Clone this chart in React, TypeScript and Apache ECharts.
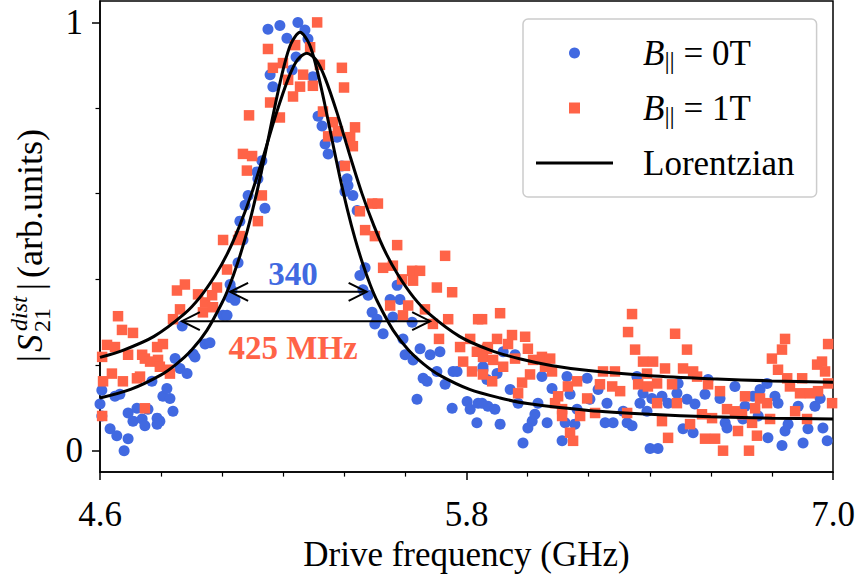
import React, { useEffect, useRef } from 'react';
import * as echarts from 'echarts';

const FONT = '"Liberation Serif", "Times New Roman", serif';
const BLUE = '#4169E1';
const ORANGE = '#FF6347';

const xMajorTicks = [4.6, 5.8, 7.0];
const xMinorTicks = [4.8, 5.0, 5.2, 5.4, 5.6, 6.0, 6.2, 6.4, 6.6, 6.8];
const yMajorTicks = [0, 1];
const yMinorTicks = [0.2, 0.4, 0.6, 0.8];

const blue0T = [
  [4.606,0.141],[4.600,0.109],[4.649,0.127],[4.665,0.132],[4.606,0.081],[4.633,0.051],[4.655,0.035],[4.692,0.028],[4.679,0.000],[4.692,0.088],[4.721,0.099],[4.708,0.069],[4.738,0.074],[4.747,0.058],[4.757,0.097],[4.787,0.076],[4.796,0.069],[4.787,0.062],[4.770,0.162],[4.806,0.127],[4.829,0.122],[4.839,0.092],[4.819,0.145],[4.846,0.215],[4.862,0.192],[4.885,0.180],[4.911,0.219],[4.905,0.226],[4.944,0.249],[4.960,0.252],[4.869,0.291],[5.003,0.316],[5.016,0.316],[5.026,0.358],[5.042,0.351],[5.032,0.374],[5.026,0.388],[5.052,0.439],[5.068,0.492],
  [5.150,0.984],[5.189,0.993],[5.248,1.000],[5.271,0.982],[5.212,0.963],[5.281,0.961],[5.242,0.919],[5.229,0.889],[5.157,0.878],[5.166,0.850],[5.297,0.873],[5.314,0.781],[5.327,0.758],[5.337,0.716],[5.347,0.693],[5.376,0.732],[5.130,0.677],[5.114,0.651],[5.117,0.635],[5.085,0.596],[5.075,0.573],[5.140,0.566],[5.058,0.536],[5.392,0.665],[5.409,0.635],[5.412,0.619],[5.428,0.596],[5.402,0.605],[5.442,0.561],
  [5.468,0.427],[5.451,0.409],[5.461,0.376],[5.478,0.363],[5.491,0.323],[5.507,0.307],[5.500,0.296],[5.527,0.273],[5.550,0.353],[5.582,0.353],[5.573,0.386],[5.559,0.312],[5.592,0.261],[5.599,0.224],[5.625,0.212],[5.648,0.238],[5.681,0.224],[5.713,0.231],[5.658,0.169],[5.671,0.162],[5.703,0.185],[5.730,0.155],[5.756,0.185],[5.769,0.185],[5.638,0.120],[5.753,0.099],[5.802,0.115],[5.812,0.097],[5.838,0.111],[5.834,0.065],[5.870,0.104],[5.854,0.189],[5.867,0.166],[5.622,0.300],
  [5.920,0.231],[5.959,0.224],[5.854,0.196],[5.900,0.180],[5.851,0.111],[5.893,0.097],[5.943,0.143],[5.969,0.111],[5.910,0.062],[5.985,0.018],[6.001,0.053],[6.015,0.069],[6.024,0.085],[6.047,0.173],[6.080,0.145],[6.034,0.111],[6.064,0.065],[6.113,0.023],[6.129,0.173],[6.139,0.132],[6.162,0.097],[6.123,0.065],[6.155,0.062],[6.195,0.169],[6.204,0.120],[6.260,0.111],[6.254,0.065],[6.280,0.065],[6.231,0.143],[6.326,0.065],[6.342,0.058],[6.358,0.173],[6.368,0.111],[6.391,0.092],[6.407,0.122],[6.401,0.005],[6.313,0.092],[6.378,0.134],
  [6.493,0.157],[6.489,0.134],[6.440,0.127],[6.460,0.111],[6.522,0.120],[6.548,0.109],[6.509,0.051],[6.542,0.042],[6.581,0.132],[6.591,0.166],[6.630,0.122],[6.647,0.065],[6.653,0.053],[6.679,0.150],[6.712,0.104],[6.705,0.074],[6.738,0.127],[6.755,0.081],[6.761,0.143],[6.784,0.157],[6.787,0.030],[6.810,0.127],[6.820,0.111],[6.833,0.012],[6.843,0.046],[6.853,0.062],[6.886,0.104],[6.902,0.018],[6.918,0.051],[6.941,0.104],[6.958,0.122],[6.967,0.053],[6.981,0.023],[6.427,0.005]
];

const orange1T = [
  [4.659,0.314],[4.672,0.282],[4.708,0.275],[4.623,0.247],[4.649,0.242],[4.607,0.219],[4.692,0.224],[4.738,0.224],[4.747,0.215],[4.787,0.242],[4.806,0.249],[4.764,0.208],[4.790,0.212],[4.796,0.196],[4.823,0.189],[4.829,0.180],[4.639,0.180],[4.610,0.162],[4.675,0.162],[4.721,0.169],[4.731,0.173],[4.607,0.081],[4.747,0.099],[4.839,0.307],[4.852,0.374],[4.878,0.388],[4.862,0.330],[4.921,0.365],[4.944,0.346],[4.937,0.323],[4.970,0.335],[4.983,0.381],[5.016,0.423],[4.967,0.363],[5.003,0.492],[5.052,0.492],
  [5.311,1.000],[5.150,0.938],[5.239,0.947],[5.288,0.942],[5.320,0.901],[5.392,0.894],[5.166,0.894],[5.199,0.905],[5.265,0.878],[5.216,0.866],[5.255,0.850],[5.297,0.852],[5.232,0.827],[5.157,0.813],[5.399,0.848],[5.088,0.783],[5.189,0.778],[5.330,0.792],[5.363,0.767],[5.379,0.746],[5.347,0.734],[5.435,0.755],[5.419,0.732],[5.428,0.711],[5.068,0.693],[5.098,0.688],[5.081,0.654],[5.402,0.665],[5.130,0.596],[5.451,0.559],[5.491,0.577],[5.510,0.577],[5.468,0.515],[5.500,0.501],[5.117,0.536],[5.058,0.501],
  [5.573,0.480],[5.730,0.455],[5.527,0.427],[5.559,0.432],[5.622,0.420],[5.648,0.420],[5.589,0.400],[5.625,0.397],[5.703,0.381],[5.753,0.370],[5.550,0.339],[5.609,0.339],[5.664,0.330],[5.592,0.316],[5.690,0.296],[5.740,0.307],[5.838,0.307],[5.710,0.261],[5.779,0.242],[5.812,0.261],[5.834,0.231],[5.867,0.238],[5.789,0.208],[5.818,0.185],[5.854,0.178],
  [5.910,0.321],[5.851,0.307],[5.900,0.261],[5.949,0.270],[5.992,0.266],[5.936,0.249],[5.870,0.242],[6.001,0.238],[5.854,0.219],[5.887,0.212],[5.959,0.215],[5.920,0.196],[6.018,0.212],[6.047,0.219],[6.074,0.215],[6.008,0.178],[5.884,0.162],[5.982,0.159],[5.969,0.134],[6.057,0.196],[6.080,0.185],[6.100,0.127],[6.090,0.111],[6.113,0.097],[6.113,0.081],[6.132,0.150],[6.162,0.162],[6.172,0.081],[6.195,0.122],[6.221,0.088],[6.139,0.042],[6.149,0.023],[6.247,0.185],[6.286,0.185],[6.237,0.155],[6.277,0.150],[6.303,0.139],[6.326,0.088],[6.342,0.319],[6.329,0.277],[6.352,0.236],[6.378,0.208],[6.411,0.208],[6.391,0.180],[6.362,0.155],[6.394,0.150],[6.424,0.157],[6.424,0.111],
  [6.483,0.273],[6.522,0.236],[6.450,0.192],[6.509,0.192],[6.542,0.185],[6.473,0.155],[6.555,0.173],[6.591,0.155],[6.630,0.139],[6.712,0.127],[6.489,0.111],[6.440,0.069],[6.460,0.030],[6.532,0.062],[6.571,0.085],[6.604,0.076],[6.581,0.028],[6.614,0.028],[6.640,0.000],[6.653,0.097],[6.679,0.092],[6.702,0.085],[6.689,0.046],[6.725,0.000],[6.735,0.065],[6.745,0.099],[6.761,0.122],[6.784,0.111],[6.751,0.035],[6.794,0.074],[6.843,0.261],[6.833,0.236],[6.800,0.215],[6.820,0.189],[6.850,0.169],[6.859,0.150],[6.899,0.169],[6.892,0.134],[6.925,0.134],[6.951,0.139],[6.876,0.092],[6.915,0.074],[6.948,0.201],[6.964,0.208],[6.974,0.185],[6.984,0.249],[6.984,0.157],[6.997,0.111]
];

const fitBlue = [
  [4.6,0.123],[4.7,0.143],[4.8,0.177],[4.85,0.202],[4.9,0.235],[4.95,0.281],[5.0,0.346],[5.025,0.387],[5.05,0.437],[5.075,0.495],[5.1,0.563],[5.125,0.640],[5.15,0.725],[5.175,0.812],[5.2,0.891],[5.225,0.950],[5.255,0.977],[5.285,0.950],[5.31,0.891],[5.335,0.812],[5.36,0.725],[5.385,0.640],[5.41,0.563],[5.435,0.495],[5.46,0.437],[5.485,0.387],[5.51,0.346],[5.56,0.281],[5.61,0.235],[5.66,0.202],[5.71,0.177],[5.81,0.143],[5.91,0.123],[6.0,0.110],[6.2,0.094],[6.4,0.085],[6.6,0.079],[6.8,0.076],[7.0,0.074]
];

const fitOrange = [
  [4.6,0.218],[4.677,0.235],[4.777,0.267],[4.877,0.320],[4.927,0.358],[4.977,0.409],[5.017,0.460],[5.057,0.525],[5.097,0.602],[5.137,0.692],[5.177,0.787],[5.217,0.870],[5.247,0.913],[5.277,0.928],[5.307,0.913],[5.337,0.870],[5.377,0.787],[5.417,0.692],[5.457,0.602],[5.497,0.525],[5.537,0.460],[5.577,0.409],[5.627,0.358],[5.677,0.320],[5.777,0.267],[5.877,0.235],[5.977,0.214],[6.077,0.199],[6.2,0.187],[6.4,0.175],[6.6,0.168],[6.8,0.163],[7.0,0.160]
];

// [x start, x end, y] of the double arrows
const arrowSpans = [
  [5.026, 5.473, 0.371],
  [4.868, 5.681, 0.3025],
];
const annotationLabels = ['340', '425 MHz'];
const annotationPos = [
  [5.232, 0.413],
  [5.232, 0.239],
];
const annotationColors = [BLUE, ORANGE];

const legendText: Record<string, string> = {
  B0: '{it|B}{sub|||}{rm| = 0T}',
  B1: '{it|B}{sub|||}{rm| = 1T}',
  Lorentzian: '{rm|Lorentzian}',
};

function buildOption(): any {
  const tickStyle = { color: '#000', width: 1.5 };
  const minorStyle = { color: '#000', width: 1.2 };
  return {
    animation: false,
    backgroundColor: '#fff',
    grid: {
      left: 100, right: 27, top: 1, bottom: 100,
      show: true, borderColor: '#000', borderWidth: 1.5, backgroundColor: 'transparent',
    },
    xAxis: [
      {
        type: 'value', min: 4.6, max: 7.0, position: 'bottom',
        splitLine: { show: false },
        axisLine: { onZero: false, lineStyle: tickStyle },
        axisTick: { customValues: xMajorTicks, length: 8, lineStyle: tickStyle },
        axisLabel: {
          customValues: xMajorTicks, margin: 25, color: '#000',
          fontFamily: FONT, fontSize: 35,
          formatter: (v: number) => v.toFixed(1),
        },
        name: 'Drive frequency (GHz)', nameLocation: 'middle', nameGap: 63,
        nameTextStyle: { fontFamily: FONT, fontSize: 35, color: '#000' },
      },
      {
        type: 'value', min: 4.6, max: 7.0, position: 'bottom',
        splitLine: { show: false }, axisLine: { show: false, onZero: false }, axisLabel: { show: false },
        axisTick: { customValues: xMinorTicks, length: 4.5, lineStyle: minorStyle },
      },
    ],
    yAxis: [
      {
        type: 'value', min: -0.05, max: 1.05, position: 'left',
        splitLine: { show: false },
        axisLine: { show: true, onZero: false, lineStyle: tickStyle },
        axisTick: { show: true, customValues: yMajorTicks, length: 8, lineStyle: tickStyle },
        axisLabel: {
          customValues: yMajorTicks, margin: 17, color: '#000',
          fontFamily: FONT, fontSize: 35,
          formatter: (v: number) => String(Math.round(v)),
        },
      },
      {
        type: 'value', min: -0.05, max: 1.05, position: 'left',
        splitLine: { show: false }, axisLine: { show: false, onZero: false }, axisLabel: { show: false },
        axisTick: { show: true, customValues: yMinorTicks, length: 4.5, lineStyle: minorStyle },
      },
    ],
    legend: {
      orient: 'vertical', left: 523, top: 19,
      padding: [14, 22, 14, 13],
      itemWidth: 77, itemHeight: 11, itemGap: 15,
      selectedMode: false,
      backgroundColor: 'rgba(255,255,255,0.85)',
      borderColor: '#cccccc', borderWidth: 1.5, borderRadius: 5,
      data: [
        { name: 'B0', icon: 'circle' },
        { name: 'B1', icon: 'path://M0 0H10V10H0Z' },
        { name: 'Lorentzian', icon: 'path://M0 0H77V3H0Z', itemStyle: { color: '#000' } },
      ],
      formatter: (n: string) => legendText[n] || n,
      textStyle: {
        color: '#000', fontFamily: FONT, fontSize: 35, lineHeight: 40,
        padding: [0, 0, 0, 25],
        rich: {
          it: { fontFamily: FONT, fontSize: 35, fontStyle: 'italic', lineHeight: 40, color: '#000' },
          sub: { fontFamily: FONT, fontSize: 26, lineHeight: 40, verticalAlign: 'bottom', color: '#000' },
          rm: { fontFamily: FONT, fontSize: 35, lineHeight: 40, color: '#000' },
        },
      },
    },
    graphic: [
      {
        type: 'group', x: 40, y: 362, rotation: Math.PI / 2, silent: true,
        children: [
          { type: 'text', x: 0, y: 8, style: { text: '|', font: `35px ${FONT}`, fill: '#000', textVerticalAlign: 'bottom', verticalAlign: 'bottom' } },
          { type: 'text', x: 10, y: 8, style: { text: 'S', font: `italic 35px ${FONT}`, fill: '#000', textVerticalAlign: 'bottom', verticalAlign: 'bottom' } },
          { type: 'text', x: 31, y: -9, style: { text: 'dist', font: `italic 24px ${FONT}`, fill: '#000', textVerticalAlign: 'bottom', verticalAlign: 'bottom' } },
          { type: 'text', x: 30, y: 14, style: { text: '21', font: `24px ${FONT}`, fill: '#000', textVerticalAlign: 'bottom', verticalAlign: 'bottom' } },
          { type: 'text', x: 72, y: 8, style: { text: '|', font: `35px ${FONT}`, fill: '#000', textVerticalAlign: 'bottom', verticalAlign: 'bottom' } },
          { type: 'text', x: 84, y: 8, style: { text: '(arb.units)', font: `36px ${FONT}`, fill: '#000', textVerticalAlign: 'bottom', verticalAlign: 'bottom' } },
        ],
      },
    ],
    series: [
      {
        name: 'B0', type: 'scatter', data: blue0T, symbol: 'circle', symbolSize: 11,
        itemStyle: { color: BLUE, opacity: 1 }, xAxisIndex: 0, yAxisIndex: 0, z: 2,
      },
      {
        name: 'B1', type: 'scatter', data: orange1T, symbol: 'rect', symbolSize: 10.5,
        itemStyle: { color: ORANGE, opacity: 1 }, xAxisIndex: 0, yAxisIndex: 0, z: 3,
      },
      {
        name: 'Lorentzian', type: 'line', data: fitBlue, smooth: 0.3, symbol: 'none',
        lineStyle: { color: '#000', width: 3 }, itemStyle: { color: '#000' }, z: 4,
      },
      {
        name: 'Lorentzian', type: 'line', data: fitOrange, smooth: 0.3, symbol: 'none',
        lineStyle: { color: '#000', width: 3 }, itemStyle: { color: '#000' }, z: 4,
      },
      {
        name: 'arrows', type: 'custom', data: arrowSpans, encode: { x: [0, 1], y: 2 },
        silent: true, z: 5, clip: false,
        renderItem: (params: any, api: any) => {
          const y = api.value(2);
          const a = api.coord([api.value(0), y]);
          const b = api.coord([api.value(1), y]);
          const h = 18, w = 9;
          const st = { stroke: '#000', lineWidth: 2, fill: 'none' };
          return {
            type: 'group',
            children: [
              { type: 'line', shape: { x1: a[0], y1: a[1], x2: b[0], y2: b[1] }, style: st },
              { type: 'polyline', shape: { points: [[a[0] + h, a[1] - w], [a[0], a[1]], [a[0] + h, a[1] + w]] }, style: st },
              { type: 'polyline', shape: { points: [[b[0] - h, b[1] - w], [b[0], b[1]], [b[0] - h, b[1] + w]] }, style: st },
            ],
          };
        },
      },
      {
        name: 'labels', type: 'custom', data: annotationPos, encode: { x: 0, y: 1 },
        silent: true, z: 6, clip: false,
        renderItem: (params: any, api: any) => {
          const p = api.coord([api.value(0), api.value(1)]);
          const i = params.dataIndex;
          return {
            type: 'text', x: p[0], y: p[1],
            style: {
              text: annotationLabels[i], fill: annotationColors[i],
              font: `bold 33px ${FONT}`,
              align: 'center', textAlign: 'center', verticalAlign: 'middle', textVerticalAlign: 'middle',
            },
          };
        },
      },
    ],
  };
}

export default function App() {
  const ref = useRef<HTMLDivElement>(null);
  useEffect(() => {
    if (!ref.current) return;
    const chart = echarts.init(ref.current, null, { renderer: 'svg' });
    chart.setOption(buildOption());
    return () => chart.dispose();
  }, []);
  return <div ref={ref} style={{ position: 'absolute', left: 0, top: 0, width: 860, height: 577 }} />;
}
